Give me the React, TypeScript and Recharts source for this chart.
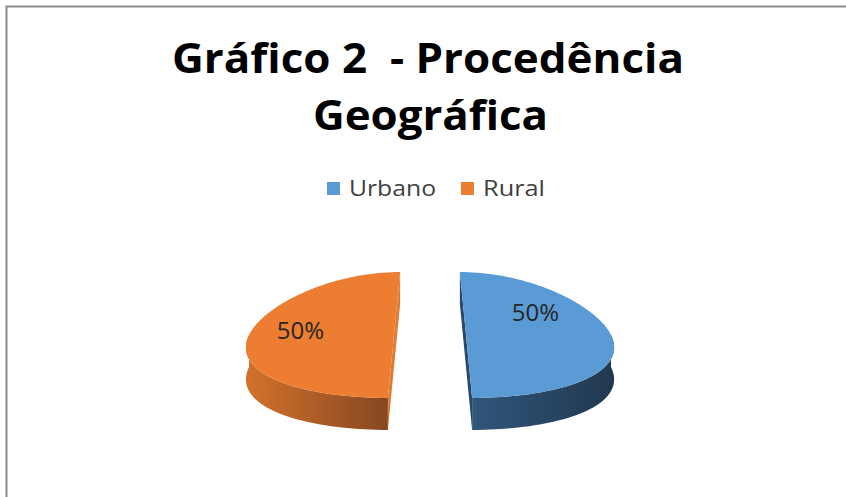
import React from 'react';
import { PieChart, Pie, Cell, Legend } from 'recharts';

// ---- data ----
const categories = ['Urbano', 'Rural'];
const values = [50, 50];

// ---- styles ----
const topColors = ['#5b9bd5', '#ed7d31'];
const sideColors: string[][] = [
  ['#30567a', '#213850'],
  ['#d2722c', '#874720'],
];
const cutColors = ['#2a4867', '#e07b34'];
const legendTextLengths = [87, 62];
const labelNudges = [
  { dx: -3, dy: -24 },
  { dx: -21, dy: -6 },
];

const data = categories.map((name, i) => ({ name, value: values[i] }));

const W = 846;
const H = 497;
const CX = 430;
const CY = 335;
const RX = 145;
const RY_RATIO = 0.434;
const DEPTH = 32;
const EXPLODE = 36;
const PERSP = 0.17;
const FONT = '"Open Sans", "DejaVu Sans", sans-serif';

type Pt = [number, number];

function project(cx: number, cy: number, r: number, deg: number, ox: number, oy: number, ry: number): Pt {
  const t = (deg * Math.PI) / 180;
  const lx = r * Math.cos(t) + ox;
  const ly = -r * Math.sin(t) * RY_RATIO + oy;
  const s = 1 + (PERSP * ly) / ry;
  return [cx + lx * s, cy + ly];
}

const toPath = (pts: Pt[]) =>
  pts.map((p, k) => `${k === 0 ? 'M' : 'L'}${p[0].toFixed(2)},${p[1].toFixed(2)}`).join(' ') + ' Z';

function Slice3D(props: any) {
  const { cx, cy, outerRadius, startAngle, endAngle } = props;
  const nm = props.name ?? props.payload?.name;
  const i = Math.max(0, categories.indexOf(nm));
  const r = outerRadius;
  const ry = r * RY_RATIO;
  const mid = (startAngle + endAngle) / 2;
  const mt = (mid * Math.PI) / 180;
  const ox = EXPLODE * Math.cos(mt);
  const oy = -EXPLODE * Math.sin(mt) * RY_RATIO;
  const N = Math.max(2, Math.ceil(Math.abs(endAngle - startAngle) / 2));
  const arc: { a: number; p: Pt }[] = [];
  for (let k = 0; k <= N; k++) {
    const a = startAngle + ((endAngle - startAngle) * k) / N;
    arc.push({ a, p: project(cx, cy, r, a, ox, oy, ry) });
  }
  const center = project(cx, cy, 0, 0, ox, oy, ry);
  const down = (p: Pt): Pt => [p[0], p[1] + DEPTH];

  const vis = arc.filter((q) => Math.sin((q.a * Math.PI) / 180) <= 1e-6).map((q) => q.p);
  const side = vis.length > 1 ? [...vis, ...vis.slice().reverse().map(down)] : null;

  const cut = (a: number) => {
    const p = project(cx, cy, r, a, ox, oy, ry);
    return [center, p, down(p), down(center)] as Pt[];
  };
  const gid = `side-grad-${i}`;
  return (
    <g>
      <defs>
        <linearGradient id={gid} x1="0" y1="0" x2="1" y2="0">
          <stop offset="0%" stopColor={sideColors[i][0]} />
          <stop offset="100%" stopColor={sideColors[i][1]} />
        </linearGradient>
      </defs>
      <path d={toPath(cut(startAngle))} fill={cutColors[i]} />
      <path d={toPath(cut(endAngle))} fill={cutColors[i]} />
      {side && <path d={toPath(side)} fill={`url(#${gid})`} />}
      <path d={toPath([center, ...arc.map((q) => q.p)])} fill={topColors[i]} />
    </g>
  );
}

function renderLabel(props: any) {
  const { cx, cy, midAngle, outerRadius, percent, name } = props;
  const i = Math.max(0, categories.indexOf(name ?? props.payload?.name));
  const t = (midAngle * Math.PI) / 180;
  const x = cx + (EXPLODE + outerRadius * 0.5) * Math.cos(t) + labelNudges[i].dx;
  const y = cy + labelNudges[i].dy;
  return (
    <text
      x={x}
      y={y}
      textAnchor="middle"
      dominantBaseline="central"
      fontFamily={FONT}
      fontSize={24}
      fill="#262626"
    >
      {`${Math.round(percent * 100)}%`}
    </text>
  );
}

function LegendContent(props: any) {
  const payload: any[] = props.payload || [];
  const ordered = categories
    .map((c) => payload.find((e) => e.value === c))
    .filter(Boolean);
  let x = 327;
  const items = ordered.map((e: any, k: number) => {
    const idx = Math.max(0, categories.indexOf(e.value));
    const x0 = x;
    const len = legendTextLengths[idx];
    x += 13 + 9 + len + 25;
    return (
      <g key={k}>
        <rect x={x0} y={12} width={13} height={13} fill={topColors[idx]} />
        <text
          x={x0 + 22}
          y={25.5}
          fontFamily={FONT}
          fontSize={21}
          fill="#404040"
          textLength={len}
          lengthAdjust="spacingAndGlyphs"
        >
          {e.value}
        </text>
      </g>
    );
  });
  return (
    <svg width={W} height={36} style={{ display: 'block' }}>
      {items}
    </svg>
  );
}

export default function App() {
  return (
    <div style={{ position: 'absolute', left: 0, top: 0, width: W, height: H, background: '#ffffff' }}>
      <PieChart width={W} height={H} margin={{ top: 0, right: 0, bottom: 0, left: 0 }}>
        <path d={`M6.5,${H} V6.5 H${W}`} fill="none" stroke="#8a8a8a" strokeWidth={2} />
        <text
          x={428}
          y={73}
          textAnchor="middle"
          fontFamily={FONT}
          fontWeight={700}
          fontSize={42}
          fill="#000000"
          textLength={512}
          lengthAdjust="spacingAndGlyphs"
          style={{ whiteSpace: 'pre' }}
        >
          {'Gráfico 2  - Procedência'}
        </text>
        <text
          x={430.5}
          y={130}
          textAnchor="middle"
          fontFamily={FONT}
          fontWeight={700}
          fontSize={42}
          fill="#000000"
          textLength={235}
          lengthAdjust="spacingAndGlyphs"
        >
          Geográfica
        </text>
        <Legend
          layout="horizontal"
          verticalAlign="middle"
          align="center"
          itemSorter={null}
          content={<LegendContent />}
          wrapperStyle={{ top: 170, left: 0, width: W, height: 36 }}
        />
        <Pie
          data={data}
          dataKey="value"
          nameKey="name"
          cx={CX}
          cy={CY}
          outerRadius={RX}
          startAngle={90}
          endAngle={-270}
          stroke="none"
          isAnimationActive={false}
          shape={Slice3D}
          label={renderLabel}
          labelLine={false}
        >
          {data.map((d, i) => (
            <Cell key={d.name} fill={topColors[i]} />
          ))}
        </Pie>
      </PieChart>
    </div>
  );
}
